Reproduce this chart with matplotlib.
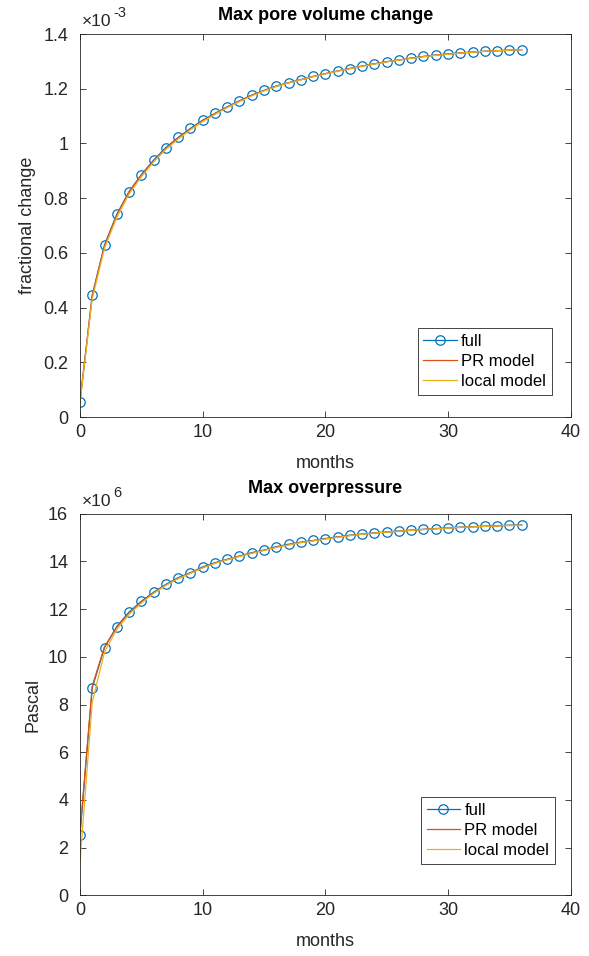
import numpy as np
import matplotlib.pyplot as plt
from matplotlib.ticker import FuncFormatter, MultipleLocator

# ── Data ─────────────────────────────────────────────────────────────────────

months = np.arange(0, 37)

# Max pore volume change (fractional)
pv_full = np.array([
    0.056, 0.446, 0.629, 0.741, 0.824, 0.886, 0.939, 0.985, 1.022, 1.055,
    1.085, 1.110, 1.134, 1.156, 1.177, 1.194, 1.210, 1.222, 1.233, 1.245,
    1.255, 1.265, 1.274, 1.283, 1.291, 1.299, 1.305, 1.312, 1.318, 1.323,
    1.327, 1.331, 1.334, 1.337, 1.339, 1.341, 1.343]) * 1e-3
pv_pr = np.array([
    0.058, 0.444, 0.627, 0.739, 0.822, 0.884, 0.937, 0.983, 1.020, 1.053,
    1.083, 1.109, 1.133, 1.155, 1.176, 1.193, 1.209, 1.222, 1.233, 1.245,
    1.255, 1.265, 1.274, 1.283, 1.291, 1.299, 1.305, 1.312, 1.318, 1.323,
    1.327, 1.331, 1.334, 1.337, 1.339, 1.341, 1.343]) * 1e-3
pv_local = np.array([
    0.052, 0.432, 0.617, 0.730, 0.815, 0.878, 0.932, 0.978, 1.016, 1.050,
    1.080, 1.106, 1.131, 1.153, 1.174, 1.192, 1.208, 1.221, 1.232, 1.244,
    1.254, 1.264, 1.273, 1.282, 1.290, 1.298, 1.305, 1.311, 1.317, 1.322,
    1.326, 1.330, 1.334, 1.337, 1.339, 1.341, 1.343]) * 1e-3

# Max overpressure (Pa)
op_full = np.array([
    2.53, 8.70, 10.39, 11.27, 11.88, 12.33, 12.71, 13.04, 13.32, 13.53,
    13.77, 13.95, 14.09, 14.23, 14.37, 14.48, 14.62, 14.72, 14.81, 14.88,
    14.96, 15.03, 15.10, 15.15, 15.20, 15.24, 15.28, 15.31, 15.35, 15.38,
    15.41, 15.44, 15.46, 15.48, 15.50, 15.52, 15.53]) * 1e6
op_pr = np.array([
    2.65, 8.78, 10.42, 11.25, 11.84, 12.30, 12.68, 13.01, 13.29, 13.51,
    13.74, 13.93, 14.08, 14.22, 14.35, 14.47, 14.60, 14.70, 14.80, 14.87,
    14.95, 15.02, 15.09, 15.14, 15.19, 15.23, 15.27, 15.31, 15.34, 15.37,
    15.40, 15.43, 15.45, 15.47, 15.49, 15.51, 15.52]) * 1e6
op_local = np.array([
    1.40, 8.10, 10.20, 11.15, 11.78, 12.26, 12.66, 13.00, 13.28, 13.50,
    13.73, 13.92, 14.07, 14.21, 14.34, 14.46, 14.59, 14.69, 14.79, 14.86,
    14.94, 15.01, 15.08, 15.14, 15.19, 15.23, 15.27, 15.30, 15.34, 15.37,
    15.40, 15.43, 15.45, 15.47, 15.49, 15.51, 15.52]) * 1e6

# ── Style (MATLAB-like defaults) ─────────────────────────────────────────────

C_FULL  = "#0072BD"
C_PR    = "#D95319"
C_LOCAL = "#EDB120"
AX_CLR  = "#262626"

plt.rcParams["font.family"] = ["Liberation Sans", "DejaVu Sans"]
plt.rcParams["axes.edgecolor"] = AX_CLR
plt.rcParams["axes.linewidth"] = 0.6
plt.rcParams["xtick.color"] = AX_CLR
plt.rcParams["ytick.color"] = AX_CLR


def style_axes(ax, ylim, ystep, ylabel, title, title_pad, exponent, leg_anchor):
    ax.set_xlim(0, 40)
    ax.set_ylim(*ylim)
    ax.xaxis.set_major_locator(MultipleLocator(10))
    ax.yaxis.set_major_locator(MultipleLocator(ystep))
    scale = 10.0 ** exponent
    ax.yaxis.set_major_formatter(FuncFormatter(lambda v, p: f"{v / scale:g}"))
    ax.tick_params(direction="in", length=4, width=0.6, labelsize=13,
                   top=True, right=True)
    ax.tick_params(axis="x", pad=5)
    ax.tick_params(axis="y", pad=8.5)
    ax.set_xlabel("months", fontsize=13, color=AX_CLR, labelpad=10)
    ax.set_ylabel(ylabel, fontsize=13, color=AX_CLR, labelpad=5)
    ax.set_title(title, fontsize=13, fontweight="bold", color="black",
                 pad=title_pad)

    # exponent label above the y-axis, MATLAB style
    base = ax.text(0.003, 1.012, "\u00d710", transform=ax.transAxes,
                   fontsize=12.5, color=AX_CLR, ha="left", va="bottom")
    ax.annotate(f"{exponent:d}", xy=(1, 0.6), xycoords=base,
                xytext=(1.5, 0), textcoords="offset points",
                fontsize=10.5, color=AX_CLR, ha="left", va="bottom")

    leg = ax.legend(loc="upper right", bbox_to_anchor=leg_anchor,
                    borderaxespad=0, fontsize=12, fancybox=False,
                    edgecolor=AX_CLR, framealpha=1, handlelength=2.0,
                    handletextpad=0.25, borderpad=0.35, labelspacing=0.3)
    leg.get_frame().set_linewidth(0.6)


fig = plt.figure(figsize=(5.89, 9.56), dpi=100)
ax1 = fig.add_axes([0.1358, 0.5638, 0.8331, 0.4006])
ax2 = fig.add_axes([0.1358, 0.0634, 0.8331, 0.3992])

# ── Top: max pore volume change ──────────────────────────────────────────────
ax1.plot(months, pv_full, "-o", color=C_FULL, lw=0.9, markersize=6.8,
         markerfacecolor="none", markeredgewidth=0.9, label="full")
ax1.plot(months, pv_pr, "-", color=C_PR, lw=0.9, label="PR model")
ax1.plot(months, pv_local, "-", color=C_LOCAL, lw=0.9, label="local model")
style_axes(ax1, (0, 1.4e-3), 0.2e-3, "fractional change",
           "Max pore volume change", 10, -3, (0.9613, 0.2324))

# ── Bottom: max overpressure ─────────────────────────────────────────────────
ax2.plot(months, op_full, "-o", color=C_FULL, lw=0.9, markersize=6.8,
         markerfacecolor="none", markeredgewidth=0.9, label="full")
ax2.plot(months, op_pr, "-", color=C_PR, lw=0.9, label="PR model")
ax2.plot(months, op_local, "-", color=C_LOCAL, lw=0.9, label="local model")
style_axes(ax2, (0, 16e6), 2e6, "Pascal",
           "Max overpressure", 15, 6, (0.968, 0.257))

fig.savefig("out.png", dpi=100)
